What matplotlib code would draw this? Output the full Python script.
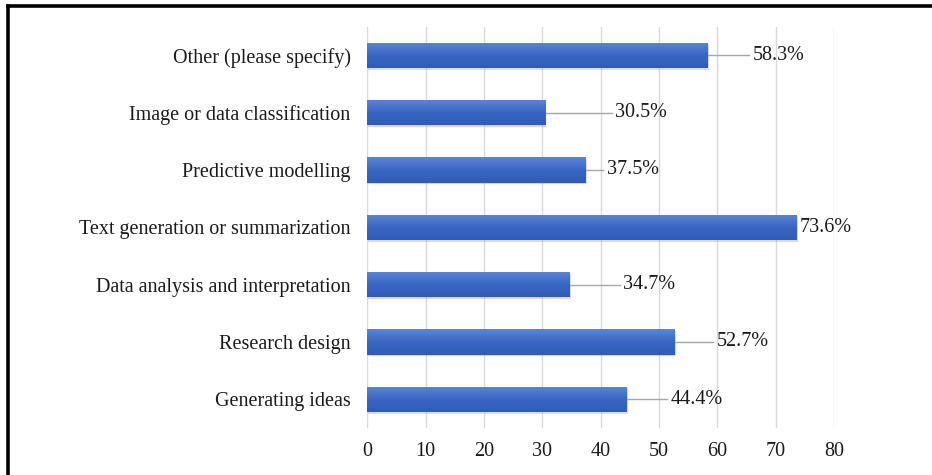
import numpy as np
import matplotlib.pyplot as plt
from matplotlib.lines import Line2D
from matplotlib.colors import LinearSegmentedColormap

# -------------------------------
# Data
# -------------------------------
categories = [
    "Generating ideas",
    "Research design",
    "Data analysis and interpretation",
    "Text generation or summarization",
    "Predictive modelling",
    "Image or data classification",
    "Other (please specify)",
]
values = [44.4, 52.7, 34.7, 73.6, 37.5, 30.5, 58.3]
x_ticks = [0, 10, 20, 30, 40, 50, 60, 70, 80]

# label offsets in data units (leader line length)
label_offsets = [7.5, 7.2, 9.2, 0.5, 3.5, 12.0, 7.7]

plt.rcParams["font.family"] = ["Liberation Serif", "DejaVu Serif"]

fig = plt.figure(figsize=(9.32, 4.75), dpi=100)
ax = fig.add_axes([0.394, 0.099, 0.501, 0.845])

y = np.arange(len(categories))
bars = ax.barh(y, values, height=0.44, color="#4271C6", zorder=3)

# vertical gradient on each bar (light top, darker bottom)
cmap = LinearSegmentedColormap.from_list("bar", ["#5B85D6", "#3A67C2", "#2F5CB8"])
grad = np.linspace(0, 1, 64).reshape(-1, 1)
for b in bars:
    x0, y0 = b.get_x(), b.get_y()
    w, h = b.get_width(), b.get_height()
    # soft shadow
    ax.barh(y0 + h / 2 - 0.03, w, left=x0 + 0.2, height=h, color="#8c8c8c",
            alpha=0.3, zorder=2)
    im = ax.imshow(grad, extent=[x0, x0 + w, y0, y0 + h], aspect="auto",
                   cmap=cmap, zorder=4, origin="upper")
    im.set_clip_path(b)

# leader lines and labels
for yi, v, off in zip(y, values, label_offsets):
    if off > 1:
        ax.plot([v, v + off - 0.6], [yi, yi], color="#A6A6A6", lw=1.0, zorder=3)
    ax.text(v + off, yi, f"{v}%", va="center", ha="left", fontsize=14.5,
            color="#1a1a1a", zorder=5)

ax.set_xlim(0, 80)
ax.set_ylim(-0.5, len(categories) - 0.5)
ax.set_xticks(x_ticks)
ax.set_yticks(y)
ax.set_yticklabels(categories)
ax.tick_params(axis="y", length=0, pad=12, labelsize=14.5, labelcolor="#1a1a1a")
ax.tick_params(axis="x", length=0, pad=10, labelsize=14.5, labelcolor="#1a1a1a")
ax.xaxis.grid(True, color="#D9D9D9", lw=1.0, zorder=0)
ax.set_axisbelow(True)
for s in ax.spines.values():
    s.set_visible(False)
ax.set_aspect("auto")

# page border lines
fig.add_artist(Line2D([7.5 / 932, 1.0], [1 - 6 / 475, 1 - 6 / 475], color="black",
                      lw=2.6, transform=fig.transFigure))
fig.add_artist(Line2D([8 / 932, 8 / 932], [0, 1 - 6 / 475], color="black",
                      lw=2.6, transform=fig.transFigure))

fig.savefig("out.png", dpi=100)
